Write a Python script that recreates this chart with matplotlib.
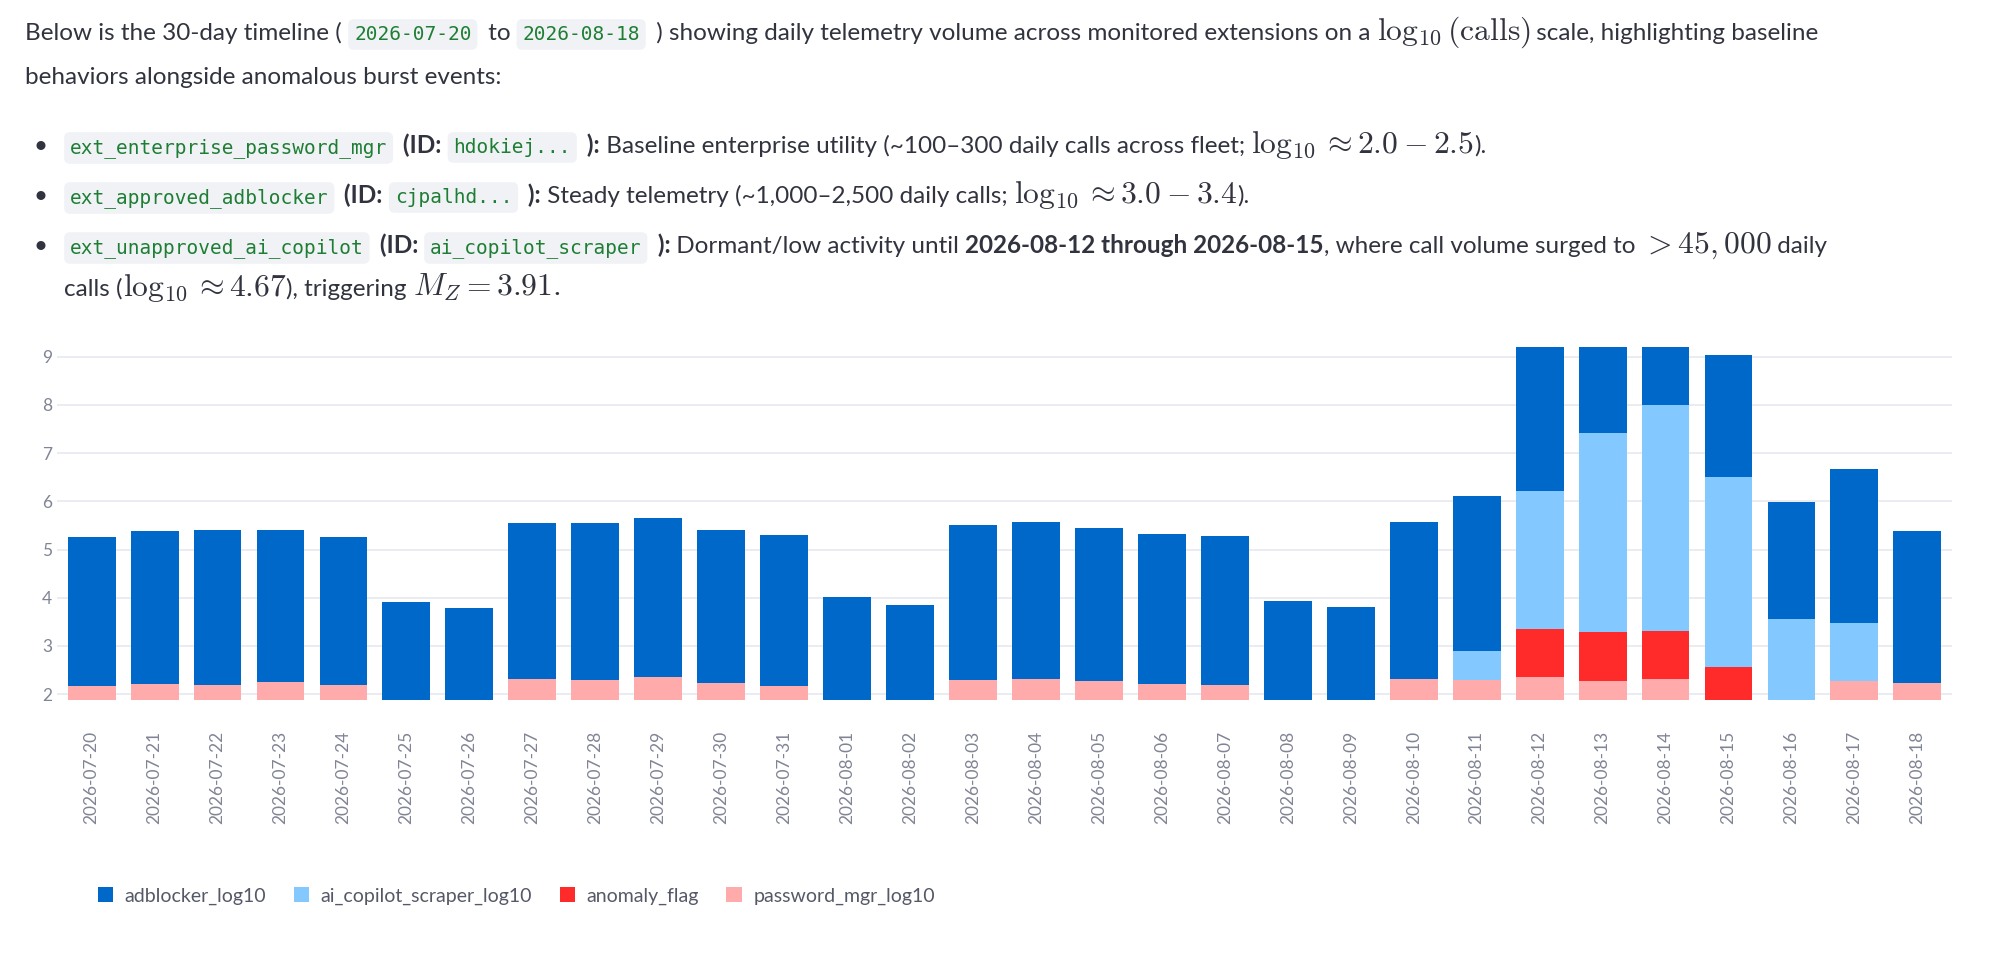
import numpy as np
import matplotlib
matplotlib.use("Agg")
import matplotlib.pyplot as plt

# data (log10 segments, stacked from 0)
dates = ["2026-07-20", "2026-07-21", "2026-07-22", "2026-07-23", "2026-07-24", "2026-07-25",
         "2026-07-26", "2026-07-27", "2026-07-28", "2026-07-29", "2026-07-30", "2026-07-31",
         "2026-08-01", "2026-08-02", "2026-08-03", "2026-08-04", "2026-08-05", "2026-08-06",
         "2026-08-07", "2026-08-08", "2026-08-09", "2026-08-10", "2026-08-11", "2026-08-12",
         "2026-08-13", "2026-08-14", "2026-08-15", "2026-08-16", "2026-08-17", "2026-08-18"]
password_mgr = [2.16, 2.22, 2.19, 2.26, 2.20, 0, 0, 2.31, 2.29, 2.36, 2.23, 2.17, 0, 0, 2.30,
                2.32, 2.27, 2.21, 2.19, 0, 0, 2.32, 2.29, 2.35, 2.28, 2.31, 0, 0, 2.28, 2.23]
anomaly_flag = [0] * 23 + [1.0, 1.01, 1.0, 2.56] + [0] * 3
ai_copilot = [0] * 22 + [0.60, 2.87, 4.12, 4.68, 3.95, 3.55, 1.20, 0]
adblocker = [3.10, 3.17, 3.21, 3.14, 3.07, 3.92, 3.78, 3.24, 3.27, 3.30, 3.18, 3.14, 4.02, 3.84,
             3.20, 3.26, 3.17, 3.11, 3.09, 3.93, 3.80, 3.25, 3.22, 3.20, 3.30, 3.35, 2.52, 2.43,
             3.18, 3.16]

series = [("password_mgr_log10", password_mgr, "#ffabab"),
          ("anomaly_flag", anomaly_flag, "#ff2b2b"),
          ("ai_copilot_scraper_log10", ai_copilot, "#83c9ff"),
          ("adblocker_log10", adblocker, "#0068c9")]

plt.rcParams["font.family"] = ["Lato", "DejaVu Sans"]
plt.rcParams["mathtext.fontset"] = "cm"

fig = plt.figure(figsize=(20.01, 9.55), dpi=100)
renderer = fig.canvas.get_renderer()
W, H = 2001, 955
TXT = "#31333f"


def runs(x, y, items, size=17.5):
    # lay out text pieces one after another on a single line (pixel coords)
    for kind, s in items:
        kw = dict(fontsize=size, color=TXT, va="baseline", ha="left")
        if kind == "b":
            kw["fontweight"] = "bold"
        if kind == "m":
            kw["fontsize"] = size * 1.3
        if kind == "c":
            kw.update(family="DejaVu Sans Mono", fontsize=size - 3.5, color="#1e7e34",
                      bbox=dict(boxstyle="round,pad=0.3", fc="#f0f2f6", ec="none"))
            x += 6
        t = fig.text(x / W, 1 - y / H, s, **kw)
        x += t.get_window_extent(renderer).width + (10 if kind == "c" else 0)
    return x


runs(25, 40, [("n", "Below is the 30-day timeline ( "), ("c", "2026-07-20"), ("n", " to "),
              ("c", "2026-08-18"),
              ("n", " ) showing daily telemetry volume across monitored extensions on a "),
              ("m", r"$\log_{10}(\mathrm{calls})$"), ("n", " scale, highlighting baseline")])
runs(25, 84, [("n", "behaviors alongside anomalous burst events:")])

bullets = [
    [("c", "ext_enterprise_password_mgr"), ("b", " (ID: "), ("c", "hdokiej..."), ("b", " ):"),
     ("n", " Baseline enterprise utility (~100–300 daily calls across fleet; "),
     ("m", r"$\log_{10} \approx 2.0 - 2.5$"), ("n", ").")],
    [("c", "ext_approved_adblocker"), ("b", " (ID: "), ("c", "cjpalhd..."), ("b", " ):"),
     ("n", " Steady telemetry (~1,000–2,500 daily calls; "),
     ("m", r"$\log_{10} \approx 3.0 - 3.4$"), ("n", ").")],
    [("c", "ext_unapproved_ai_copilot"), ("b", " (ID: "), ("c", "ai_copilot_scraper"), ("b", " ):"),
     ("n", " Dormant/low activity until "), ("b", "2026-08-12 through 2026-08-15"),
     ("n", ", where call volume surged to "), ("m", r"$> 45,000$"), ("n", " daily")],
]
for i, items in enumerate(bullets):
    yy = 153 + i * 50
    fig.text(33 / W, 1 - yy / H, "•", fontsize=17.5, color=TXT, va="baseline")
    runs(64, yy, items)
runs(64, 296, [("n", "calls ("), ("m", r"$\log_{10} \approx 4.67$"), ("n", "), triggering "),
               ("m", r"$M_Z = 3.91.$")])

ax = fig.add_axes([57 / W, 1 - 700 / H, (1952 - 57) / W, (700 - 347) / H])
x = np.arange(len(dates))
bottom = np.zeros(len(dates))
for name, vals, color in series:
    ax.bar(x, vals, bottom=bottom, width=0.76, color=color, label=name, zorder=3)
    bottom += np.array(vals)

ax.set_ylim(1.88, 9.2)
ax.set_xlim(-0.55, len(dates) - 0.45)
ax.set_yticks(range(2, 10))
ax.set_xticks(x)
ax.set_xticklabels(dates, rotation=90)
ax.tick_params(axis="both", length=0, colors="#808495", labelsize=12.5)
ax.tick_params(axis="x", pad=22)
ax.grid(axis="y", color="#e6e9ef", lw=1.2, zorder=0)
for sp in ax.spines.values():
    sp.set_visible(False)

handles, labels = ax.get_legend_handles_labels()
order = [3, 2, 1, 0]
fig.legend([handles[i] for i in order], [labels[i] for i in order], loc="lower left",
           bbox_to_anchor=(80 / W, 1 - 922 / H), ncol=4, frameon=False, fontsize=14,
           handlelength=0.8, handleheight=0.8, handletextpad=0.6, columnspacing=1.4,
           labelcolor="#555867")

fig.savefig("out.png", dpi=100)
